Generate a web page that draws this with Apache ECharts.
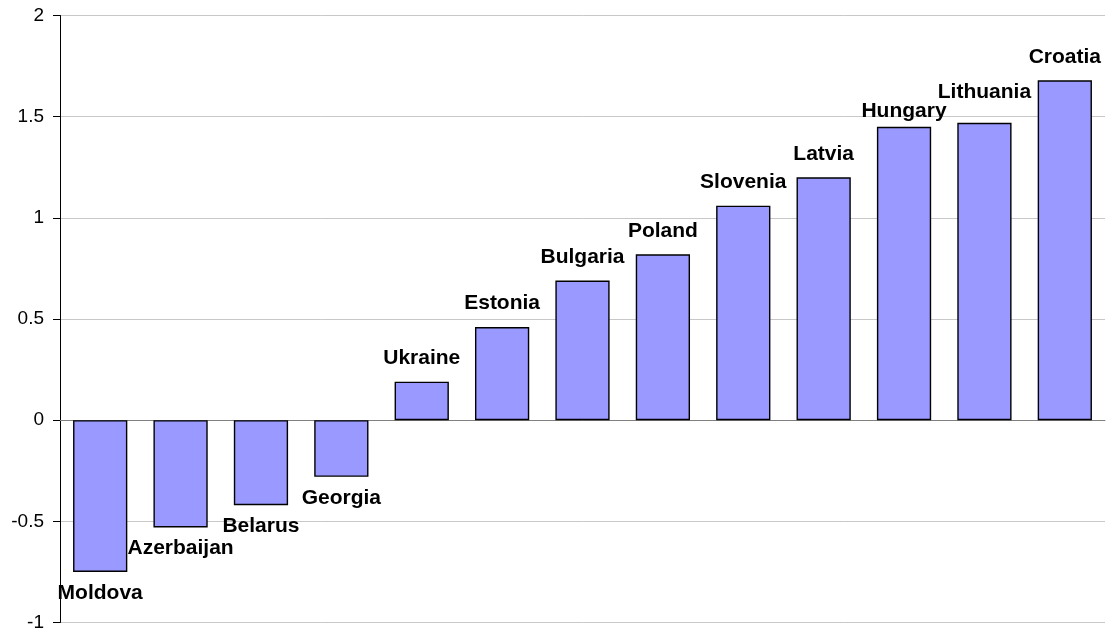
<!DOCTYPE html>
<html>
<head>
<meta charset="utf-8">
<title>Bar chart</title>
<script src="https://cdn.jsdelivr.net/npm/echarts@6/dist/echarts.min.js"></script>
<style>
  html, body { margin: 0; padding: 0; background: #ffffff; }
  #chart { width: 1106px; height: 632px; }
</style>
</head>
<body>
<div id="chart"></div>
<script>
// Countries, in ascending order of value
const categories = ['Moldova', 'Azerbaijan', 'Belarus', 'Georgia', 'Ukraine', 'Estonia',
  'Bulgaria', 'Poland', 'Slovenia', 'Latvia', 'Hungary', 'Lithuania', 'Croatia'];
const values = [-0.75, -0.53, -0.42, -0.28, 0.19, 0.46, 0.69, 0.82, 1.06, 1.20, 1.45, 1.47, 1.68];
const yTicks = [-1, -0.5, 0, 0.5, 1, 1.5, 2];

// Extra label gap for a couple of crowded labels (px, positive = further from bar)
const labelGapAdjust = { Hungary: -8, Lithuania: 7 };

const chart = echarts.init(document.getElementById('chart'), null, { renderer: 'canvas' });

const barData = values.map((v, i) => {
  const name = categories[i];
  const positive = v >= 0;
  const baseGap = positive ? 13 : 10.5;
  const gap = baseGap + (labelGapAdjust[name] || 0);
  return {
    value: v,
    label: {
      position: positive ? 'top' : 'bottom',
      distance: gap
    }
  };
});

chart.setOption({
  animation: false,
  backgroundColor: '#ffffff',
  grid: { left: 60, right: 1, top: 15.5, bottom: 9, containLabel: false },
  xAxis: {
    type: 'category',
    data: categories,
    axisLine: { onZero: true, lineStyle: { color: '#808080', width: 1 } },
    axisTick: { show: false },
    axisLabel: { show: false },
    splitLine: { show: false }
  },
  yAxis: {
    type: 'value',
    min: yTicks[0],
    max: yTicks[yTicks.length - 1],
    interval: 0.5,
    axisLine: { show: true, lineStyle: { color: '#000000', width: 1 } },
    axisTick: { show: true, inside: false, length: 7, lineStyle: { color: '#000000' } },
    axisLabel: {
      color: '#000000',
      fontFamily: 'Liberation Sans, Arial, sans-serif',
      fontSize: 19,
      margin: 16,
      formatter: v => String(v)
    },
    splitLine: { show: true, lineStyle: { color: '#c8c8c8', width: 1 } }
  },
  series: [{
    type: 'bar',
    data: barData,
    barWidth: '67.5%',
    itemStyle: { color: '#9999ff', borderColor: '#000000', borderWidth: 1.4 },
    label: {
      show: true,
      formatter: p => p.name,
      color: '#000000',
      fontFamily: 'Liberation Sans, Arial, sans-serif',
      fontWeight: 'bold',
      fontSize: 21
    }
  }]
});
</script>
</body>
</html>
